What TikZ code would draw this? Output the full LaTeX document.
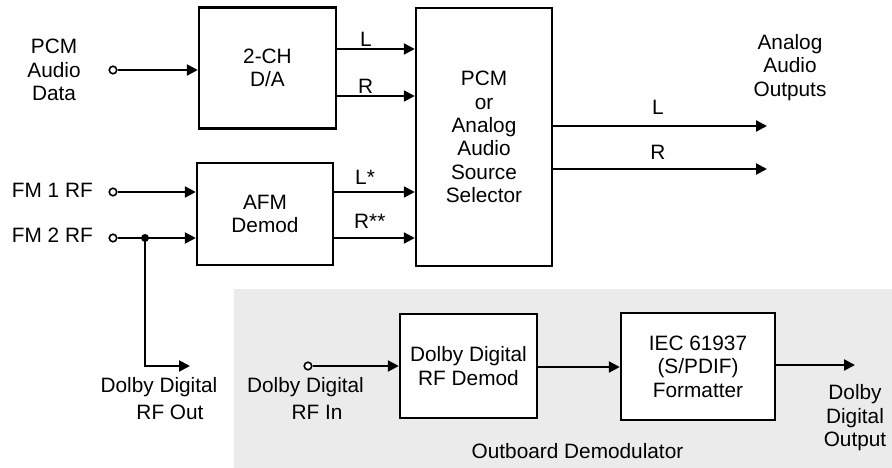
\documentclass[tikz,border=0pt]{standalone}
\usepackage{fontspec}
\setmainfont{Liberation Sans}
\usetikzlibrary{arrows.meta}
\definecolor{panel}{RGB}{235,235,235}
\begin{document}
\begin{tikzpicture}[x=1pt,y=-1pt,
  every node/.style={font=\fontsize{20.8}{23.4}\selectfont, inner sep=0pt, align=center},
  blk/.style={draw, line width=2.4pt, fill=white},
  ln/.style={line width=2.2pt},
  arr/.style={ln,-{Triangle[length=11pt,width=11pt]}},
  term/.style={circle, draw, line width=1.6pt, fill=white, minimum size=7.5pt},
  jdot/.style={circle, fill, minimum size=8pt}]
\useasboundingbox (0,0) rectangle (892,468);
\fill[panel] (234,289) rectangle (892,468);

% blocks
\node[blk, minimum width=137pt, minimum height=121pt] (da) at (267.5,68) {2-CH\\D/A};
\node[blk, minimum width=136pt, minimum height=258pt] (sel) at (484,137) {PCM\\or\\Analog\\Audio\\Source\\Selector};
\node[blk, minimum width=136pt, minimum height=102pt] (afm) at (265,214) {AFM\\Demod};
\node[blk, minimum width=137pt, minimum height=104pt] (ddrf) at (468.5,366) {Dolby Digital\\RF Demod};
\node[blk, minimum width=154pt, minimum height=107pt] (iec) at (698,366.5) {IEC 61937\\(S/PDIF)\\Formatter};

% inputs
\node[term] (pcm) at (113,70) {};
\draw[arr] (pcm) -- (pcm -| da.west);
\node[term] (fm1) at (113,192) {};
\draw[arr] (fm1) -- (fm1 -| afm.west);
\node[term] (fm2) at (113,238) {};
\draw[arr] (fm2) -- (fm2 -| afm.west);
\node[jdot] (j) at (145,238) {};
\coordinate (rfout) at (190,366);
\draw[arr] (j.center) |- (rfout);

% internal connections
\draw[arr] (da.east |- 0,49) -- (sel.west |- 0,49);
\draw[arr] (da.east |- 0,96) -- (sel.west |- 0,96);
\draw[arr] (afm.east |- 0,192) -- (sel.west |- 0,192);
\draw[arr] (afm.east |- 0,238) -- (sel.west |- 0,238);

% outputs
\coordinate (oL) at (767,126);
\coordinate (oR) at (767,169);
\draw[arr] (sel.east |- oL) -- (oL);
\draw[arr] (sel.east |- oR) -- (oR);

% outboard
\node[term] (rfin) at (308,366) {};
\draw[arr] (rfin) -- (rfin -| ddrf.west);
\draw[arr] (ddrf.east |- 0,367) -- (iec.west |- 0,367);
\coordinate (ddo) at (855,365);
\draw[arr] (iec.east |- ddo) -- (ddo);

% labels
\node (tpcm) at (54,70) {PCM\\Audio\\Data};
\node[anchor=base east] (tfm1) at (93,197) {FM 1 RF};
\node[anchor=base east] (tfm2) at (93,242) {FM 2 RF};
\node[anchor=base west] (tl) at (360,47) {L};
\node[anchor=base west] (tr) at (358,94) {R};
\node[anchor=base west] (tls) at (355,185) {L*};
\node[anchor=base west] (trs) at (354,228) {R**};
\node[anchor=base] (tol) at (658,115) {L};
\node[anchor=base] (tor) at (658,160) {R};
\node (taao) at (790,67.5) {Analog\\Audio\\Outputs};
\node[anchor=base] (tdo1) at (159,392) {Dolby Digital};
\node[anchor=base] (tdo2) at (170,419) {RF Out};
\node[anchor=base] (tdi1) at (305.5,392) {Dolby Digital};
\node[anchor=base] (tdi2) at (317,419) {RF In};
\node (tddo) at (855,418) {Dolby\\Digital\\Output};
\node[anchor=base] (tob) at (577.5,458) {Outboard Demodulator};
\end{tikzpicture}
\end{document}
